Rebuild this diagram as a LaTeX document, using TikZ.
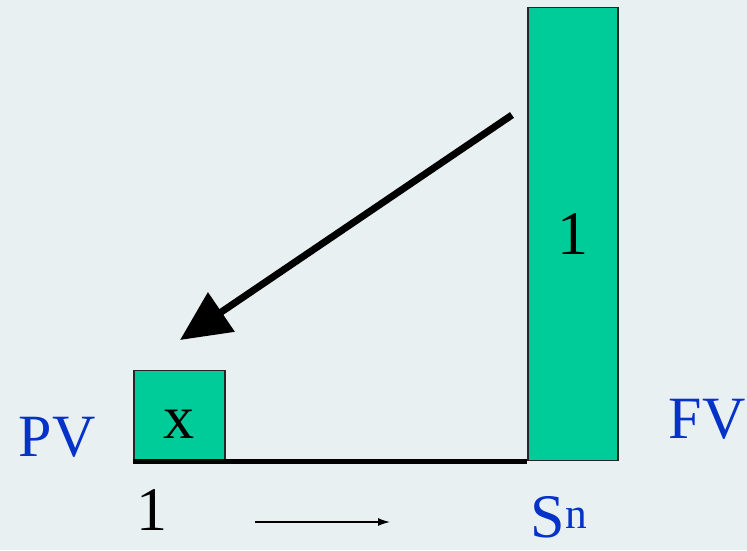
\documentclass[tikz,border=0pt]{standalone}
\usepackage{fontspec}
\setmainfont{Liberation Serif}
\usetikzlibrary{arrows.meta, positioning}
\definecolor{barGreen}{RGB}{0,204,153}
\definecolor{labelBlue}{RGB}{5,50,200}
\definecolor{paper}{RGB}{232,240,242}

\begin{document}
\begin{tikzpicture}[x=1pt, y=-1pt,
    bar/.style={draw=black!85, line width=1.5pt, fill=barGreen, inner sep=0pt},
    big/.style={font=\fontsize{62}{70}\selectfont},
    tag/.style={font=\fontsize{60}{70}\selectfont, text=labelBlue}]
            \def\base{461}  % ground line
            \fill[paper] (0,0) rectangle (747,550);
            \useasboundingbox (0,0) rectangle (747,550);
            % present and future value bars
            \node[bar, big, text height=46pt, text depth=0pt, minimum width=91pt, minimum height=90pt, anchor=south west] (pvbox) at (133,\base) {x};
            \node[bar, big, minimum width=90pt, minimum height=453pt, anchor=south west] (fvbox) at (527,\base) {1};
            \draw[line width=5pt] (pvbox.south west) -- (fvbox.south west);
            \node[tag] (pv) at (57,437) {PV};
            \node[tag] (fv) at (707,419) {FV};
            \node[big] (one) at (152,510) {1};
            \node[big, text=labelBlue] (sn) at (559,517) {S\textsuperscript{n}};
            % discounting arrow
            \coordinate (from) at (512,115);
            \coordinate (to) at (180,340);
            \draw[line width=7pt, -{Triangle[length=50pt, width=46pt]}] (from) -- (to);
            \coordinate (t0) at (255,522);
            \coordinate (t1) at (390,522);
            \draw[line width=1.4pt, -{Latex[length=12pt, width=8pt]}] (t0) -- (t1);
        \end{tikzpicture}
\end{document}
